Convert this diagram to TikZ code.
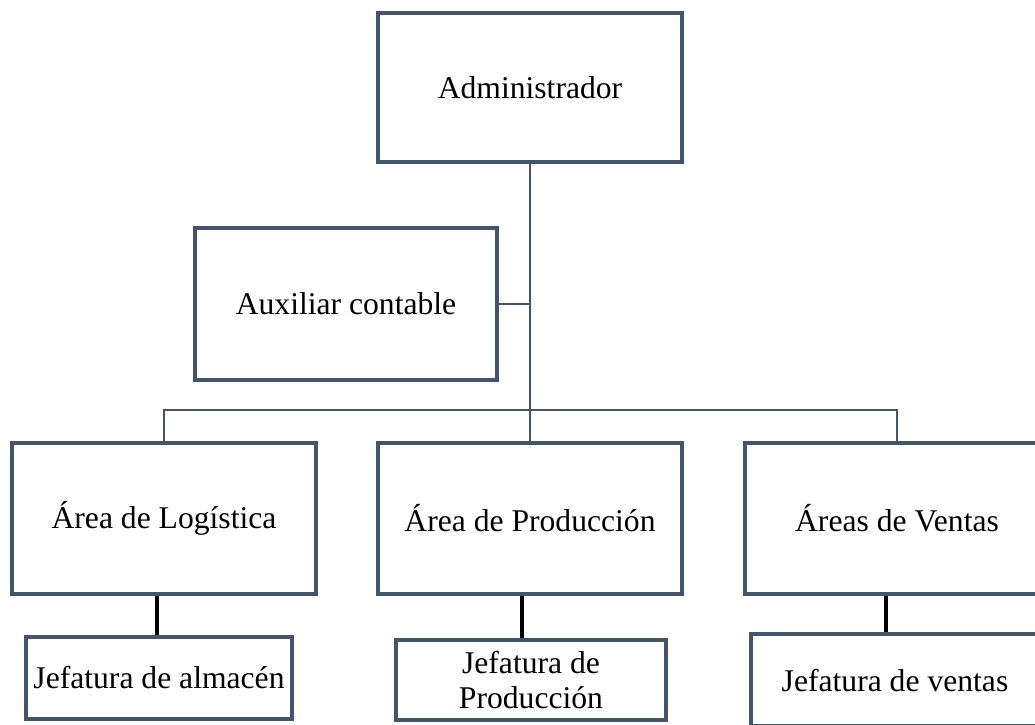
\documentclass[tikz,border=0pt]{standalone}
\usepackage{fontspec}
\setmainfont{Liberation Serif}
\usepackage{xcolor}
\usetikzlibrary{positioning, calc}
\definecolor{slate}{HTML}{44546A}

\begin{document}
\begin{tikzpicture}[x=0.02cm, y=-0.02cm,
  every node/.style={font=\fontsize{18}{19.5}\selectfont},
  box/.style={draw=slate, line width=2.2pt, fill=white, align=center, inner sep=0pt},
  link/.style={draw=slate, line width=1.4pt},
  sublink/.style={draw=black, line width=2.8pt}]
\useasboundingbox (0,0) rectangle (1035,724);
\begin{scope}
\clip (0,0) rectangle (1035,724);
% top level
\node[box, minimum width=304*0.02cm, minimum height=149*0.02cm] (adm) at (530,87.5) {Administrador};
\node[box, minimum width=302*0.02cm, minimum height=152*0.02cm] (aux) at (346,304) {Auxiliar contable};
% areas
\node[box, minimum width=304*0.02cm, minimum height=151*0.02cm] (log) at (164,518.5) {Área de Logística};
\node[box, minimum width=304*0.02cm, minimum height=151*0.02cm] (prod) at (530,518.5) {Área de Producción};
\node[box, minimum width=304*0.02cm, minimum height=151*0.02cm] (ven) at (897,518.5) {Áreas de Ventas};
% jefaturas
\node[box, minimum width=266*0.02cm, minimum height=82*0.02cm] (jalm) at (159,678) {Jefatura de almacén};
\node[box, minimum width=270*0.02cm, minimum height=80*0.02cm] (jprod) at (531,680) {Jefatura de\\Producción};
\node[box, minimum width=288*0.02cm, minimum height=92*0.02cm, text depth=0pt] (jven) at (895,680) {Jefatura de ventas};
\coordinate (bar) at (530,410);
% connectors
\draw[link] (adm.south) -- (prod.north);
\draw[link] (aux.east) -- (aux.east -| adm.south);
\draw[link] (log.north) |- (bar) -| (ven.north);
\draw[sublink] ([xshift=-0.04cm]jalm.north) -- ([xshift=-0.04cm]jalm.north |- log.south);
\draw[sublink] ([xshift=-0.18cm]jprod.north) -- ([xshift=-0.18cm]jprod.north |- prod.south);
\draw[sublink] ([xshift=-0.18cm]jven.north) -- ([xshift=-0.18cm]jven.north |- ven.south);
\end{scope}
\end{tikzpicture}
\end{document}
